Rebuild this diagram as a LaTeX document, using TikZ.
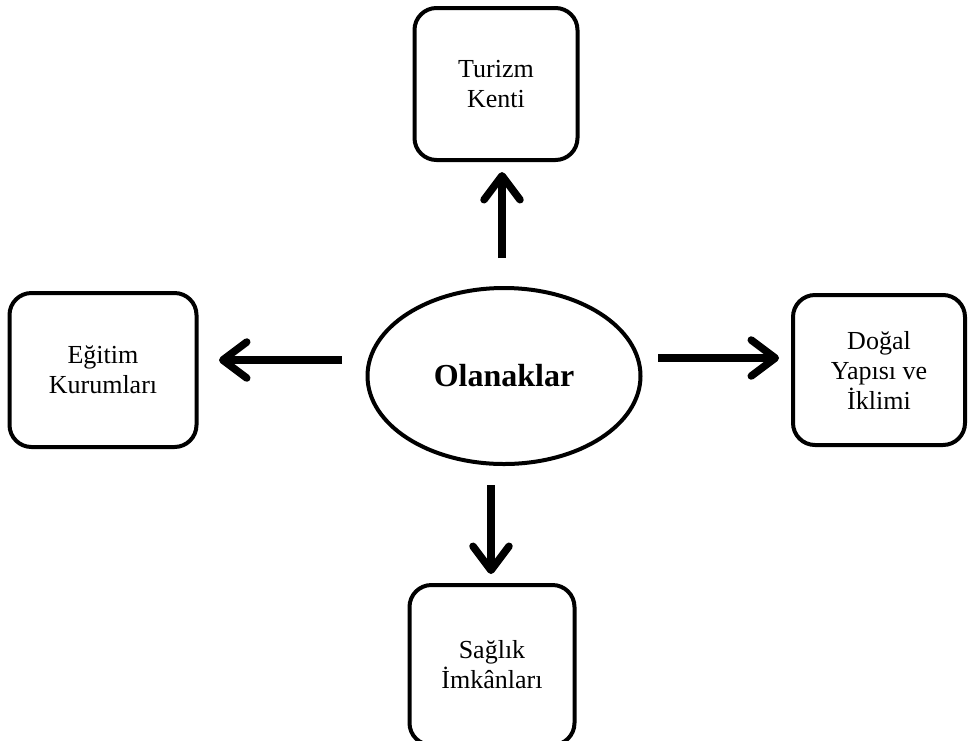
\documentclass[tikz,border=0pt]{standalone}
\usepackage{fontspec}
\setmainfont{Liberation Serif}
\usetikzlibrary{arrows.meta,shapes.geometric}
\begin{document}
\begin{tikzpicture}[x=1pt,y=-1pt,
  box/.style={draw=black,line width=4pt,rounded corners=22pt,fill=white,align=center,inner sep=0pt,font=\fontsize{26}{30}\selectfont},
  arr/.style={line width=7.5pt,-{Straight Barb[length=24pt,width=36pt,round]}}]
\useasboundingbox (0,0) rectangle (969,740);
\node[box,minimum width=163pt,minimum height=152pt] (top) at (496,84) {Turizm\\Kenti};
\node[box,minimum width=187pt,minimum height=154pt] (left) at (103,370) {Eğitim\\Kurumları};
\node[box,minimum width=172pt,minimum height=150pt] (right) at (879,370) {Doğal\\Yapısı ve\\İklimi};
\node[box,minimum width=165pt,minimum height=160pt] (bottom) at (492,665) {Sağlık\\İmkânları};
\node[ellipse,draw=black,line width=4pt,minimum width=273pt,minimum height=176pt,inner sep=0pt,font=\fontsize{32}{36}\selectfont\bfseries] (ell) at (504,376) {Olanaklar};
\coordinate (ua) at (502,258); \coordinate (ub) at (502,172);
\coordinate (la) at (342,360); \coordinate (lb) at (219,360);
\coordinate (ra) at (658,358); \coordinate (rb) at (779,358);
\coordinate (da) at (491,485); \coordinate (db) at (491,574);
\draw[arr] (ua) -- (ub);
\draw[arr] (la) -- (lb);
\draw[arr] (ra) -- (rb);
\draw[arr] (da) -- (db);
\end{tikzpicture}
\end{document}
